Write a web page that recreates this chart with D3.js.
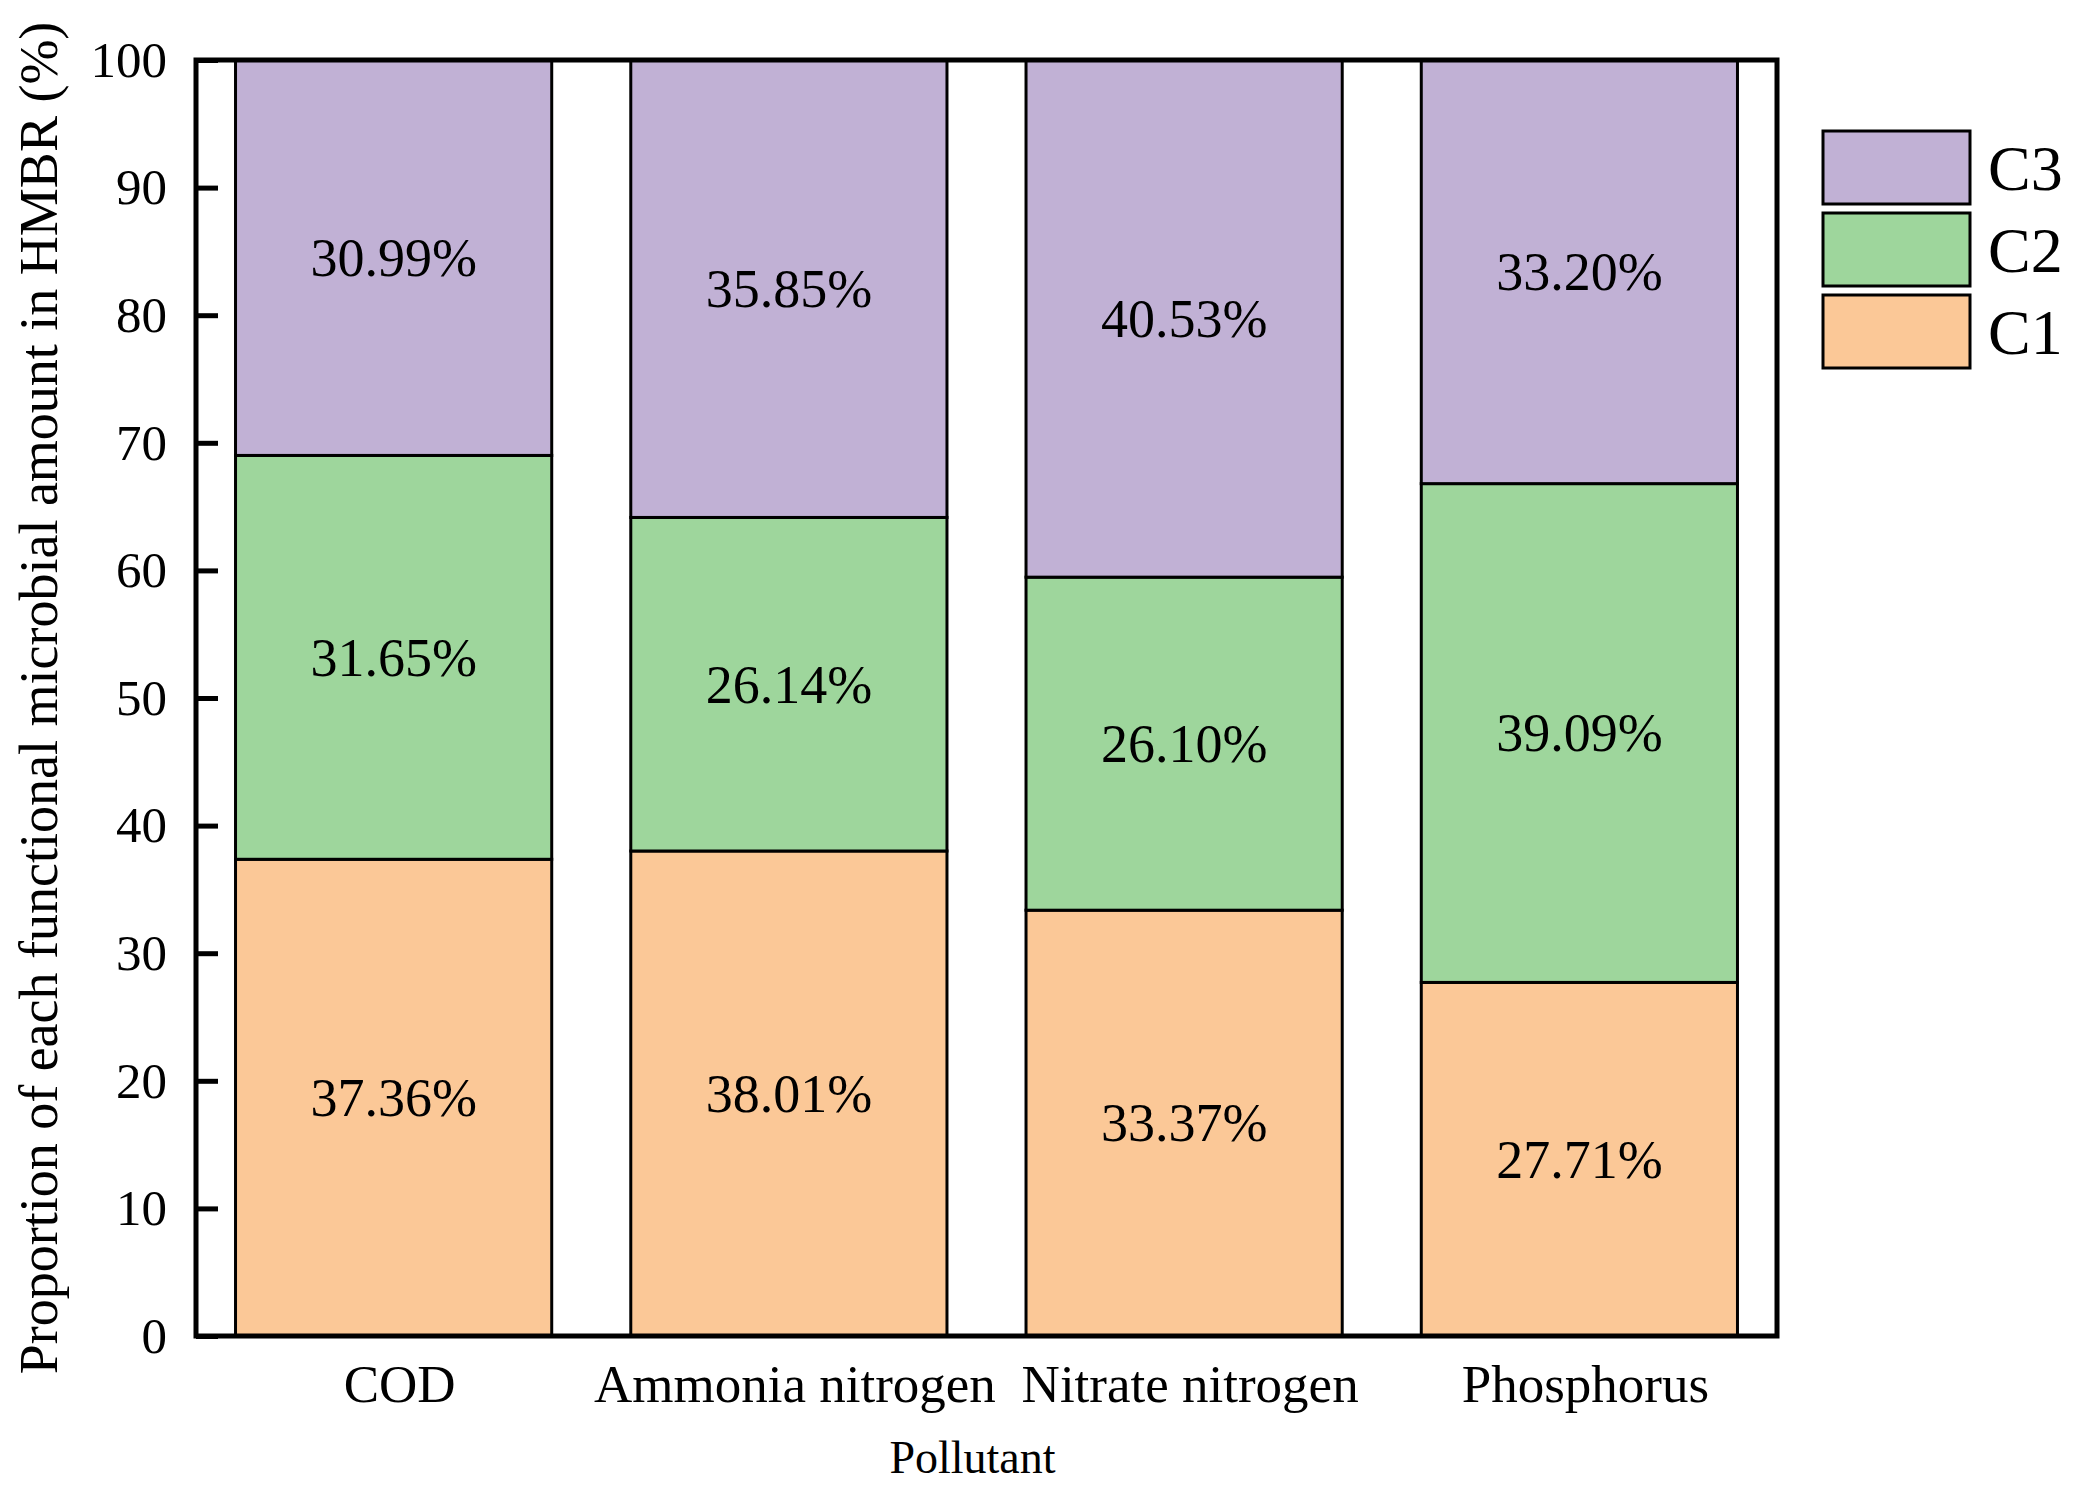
<!DOCTYPE html>
<html>
<head>
<meta charset="utf-8">
<script src="https://cdn.jsdelivr.net/npm/d3@7"></script>
<style>
	body { margin: 0; background: #ffffff; }
	svg text { font-family: "Liberation Serif", "Times New Roman", serif; fill: #000000; }
</style>
</head>
<body>
<div id="chart"></div>
<script>

// pollutants on the x axis
const pollutants = ["COD", "Ammonia nitrogen", "Nitrate nitrogen", "Phosphorus"];

// series keys, bottom to top
const groups = ["C1", "C2", "C3"];

// proportion (%) of each group per pollutant
const c1Values = [37.36, 38.01, 33.37, 27.71];
const c2Values = [31.65, 26.14, 26.10, 39.09];
const c3Values = [30.99, 35.85, 40.53, 33.20];

const yTicks = [0, 10, 20, 30, 40, 50, 60, 70, 80, 90, 100];

const colors = {C1: "#fbc897", C2: "#9ed69c", C3: "#c1b1d5"};

// table for d3.stack
let table = pollutants.map((p, i) => ({
	pollutant: p,
	C1: c1Values[i],
	C2: c2Values[i],
	C3: c3Values[i]
}));

let margin = {top: 60, right: 303, bottom: 163, left: 196};
let width = 2080 - margin.left - margin.right;
let height = 1499 - margin.top - margin.bottom;

let svg = d3.select("#chart").append("svg")
	.attr("width", 2080)
	.attr("height", 1499);

let g = svg.append("g")
	.attr("transform", `translate(${margin.left}, ${margin.top})`);

let x = d3.scaleBand()
	.domain(pollutants)
	.range([0, width])
	.paddingInner(0.2)
	.paddingOuter(0.1);

let y = d3.scaleLinear()
	.domain([0, 100])
	.range([height, 0]);

let series = d3.stack().keys(groups)(table);

// stacked bars
let layer = g.selectAll("g.layer")
	.data(series)
	.enter()
	.append("g")
	.attr("class", "layer")
	.attr("fill", d => colors[d.key]);

layer.selectAll("rect")
	.data(d => d)
	.enter()
	.append("rect")
	.attr("x", d => x(d.data.pollutant))
	.attr("y", d => y(d[1]))
	.attr("width", x.bandwidth())
	.attr("height", d => y(d[0]) - y(d[1]))
	.attr("stroke", "#000")
	.attr("stroke-width", 3);

// value labels in the middle of each segment
layer.selectAll("text")
	.data(d => d.map(v => ({v: v, key: d.key})))
	.enter()
	.append("text")
	.attr("x", d => x(d.v.data.pollutant) + x.bandwidth() / 2)
	.attr("y", d => y((d.v[0] + d.v[1]) / 2))
	.attr("dy", "0.34em")
	.attr("text-anchor", "middle")
	.style("font-size", "54px")
	.text(d => d.v.data[d.key].toFixed(2) + "%");

// y axis, ticks pointing inward
let yAxis = g.append("g")
	.call(d3.axisLeft(y).tickValues(yTicks).tickSize(-22).tickPadding(29));

yAxis.select(".domain").remove();
yAxis.selectAll(".tick line")
	.attr("stroke", "#000")
	.attr("stroke-width", 5);
yAxis.selectAll(".tick text")
	.attr("dy", "0.32em")
	.style("font-size", "51px");

// x axis labels, no ticks
let xAxis = g.append("g")
	.attr("transform", `translate(0, ${height})`)
	.call(d3.axisBottom(x).tickSize(0).tickPadding(0));

xAxis.select(".domain").remove();
xAxis.selectAll(".tick text")
	.attr("x", 6)
	.attr("y", 66)
	.attr("dy", 0)
	.style("font-size", "53px");

// frame
g.append("rect")
	.attr("x", 0)
	.attr("y", 0)
	.attr("width", width)
	.attr("height", height)
	.attr("fill", "none")
	.attr("stroke", "#000")
	.attr("stroke-width", 5);

// axis titles
g.append("text")
	.attr("x", width / 2 - 14)
	.attr("y", height + 137)
	.attr("text-anchor", "middle")
	.style("font-size", "46px")
	.text("Pollutant");

svg.append("text")
	.attr("transform", `translate(57, ${margin.top + height / 2}) rotate(-90)`)
	.attr("text-anchor", "middle")
	.style("font-size", "54px")
	.text("Proportion of each functional microbial amount in HMBR (%)");

// legend, C3 at top
let legend = svg.append("g")
	.attr("transform", "translate(1823, 131)");

let legendItem = legend.selectAll("g.legend-item")
	.data(groups.slice().reverse())
	.enter()
	.append("g")
	.attr("class", "legend-item")
	.attr("transform", (d, i) => `translate(0, ${i * 82})`);

legendItem.append("rect")
	.attr("width", 147)
	.attr("height", 73)
	.attr("fill", d => colors[d])
	.attr("stroke", "#000")
	.attr("stroke-width", 3);

legendItem.append("text")
	.attr("x", 165)
	.attr("y", 59)
	.style("font-size", "64px")
	.text(d => d);

</script>
</body>
</html>
